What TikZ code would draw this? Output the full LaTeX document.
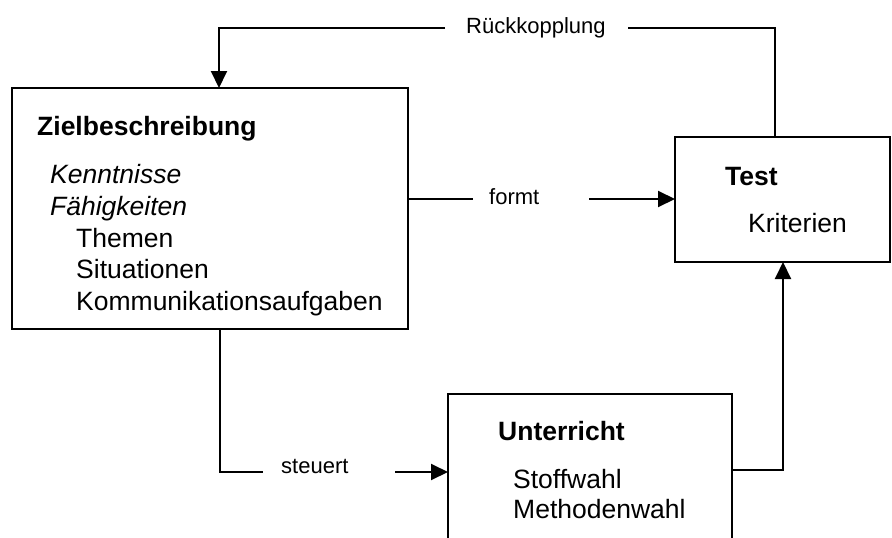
\documentclass[tikz,border=0pt]{standalone}
\usepackage{fontspec}
\setmainfont{Liberation Sans}
\usetikzlibrary{arrows.meta}
\tikzset{
  box/.style={draw, line width=2.2pt, rectangle, inner sep=0pt, outer sep=0pt},
  txt/.style={anchor=base west, inner sep=0pt, font=\fontsize{26.5}{30}\selectfont},
  btxt/.style={txt, font=\fontsize{26.5}{30}\selectfont\bfseries},
  itxt/.style={txt, font=\fontsize{26.5}{30}\selectfont\itshape},
  lbl/.style={anchor=base west, inner sep=0pt, font=\fontsize{22}{26}\selectfont},
  conn/.style={line width=2pt},
  arr/.style={-{Triangle[length=17pt,width=16pt]}}
}
\begin{document}
\begin{tikzpicture}[x=1pt,y=-1pt]
\useasboundingbox (0,0) rectangle (892,538);
\clip (0,0) rectangle (892,538);
\fill[white] (0,0) rectangle (892,538);
% boxes
\node[box, minimum width=396pt, minimum height=241pt] (ziel) at (210,208.5) {};
\node[box, minimum width=215pt, minimum height=125pt] (test) at (782.5,199.5) {};
\node[box, minimum width=284pt, minimum height=206pt] (unt) at (590,497) {};
% texts
\node[btxt] (t1) at (37,135) {Zielbeschreibung};
\node[itxt] (t2) at (50,183) {Kenntnisse};
\node[itxt] (t3) at (50,215) {Fähigkeiten};
\node[txt] (t4) at (76,247) {Themen};
\node[txt] (t5) at (76,278) {Situationen};
\node[txt] (t6) at (76,310) {Kommunikationsaufgaben};
\node[btxt] (t7) at (725,185) {Test};
\node[txt] (t8) at (748,232) {Kriterien};
\node[btxt] (t9) at (498,440) {Unterricht};
\node[txt] (t10) at (513,488) {Stoffwahl};
\node[txt] (t11) at (513,518) {Methodenwahl};
% labels
\node[lbl] (rk) at (466,33) {Rückkopplung};
\node[lbl] (fm) at (489,204) {formt};
\node[lbl] (st) at (281,473) {steuert};
% connector ends
\coordinate (rkR) at (628,28);
\coordinate (rkL) at (445,28);
\coordinate (rkV) at (775,0);
\coordinate (zx) at (219,0);
\coordinate (fmL) at (473,199);
\coordinate (fmR) at (589,199);
\coordinate (sx) at (220,0);
\coordinate (stL) at (263,472);
\coordinate (stR) at (395,472);
\coordinate (ux) at (783,470);
% connectors
\draw[conn] (test.north -| rkV) |- (rkR);
\draw[conn,arr] (rkL) -| (ziel.north -| zx);
\draw[conn] (ziel.east |- fmL) -- (fmL);
\draw[conn,arr] (fmR) -- (test.west |- fmR);
\draw[conn] (ziel.south -| sx) |- (stL);
\draw[conn,arr] (stR) -- (unt.west |- stR);
\draw[conn,arr] (unt.east |- ux) -| (test.south -| ux);
\end{tikzpicture}
\end{document}
